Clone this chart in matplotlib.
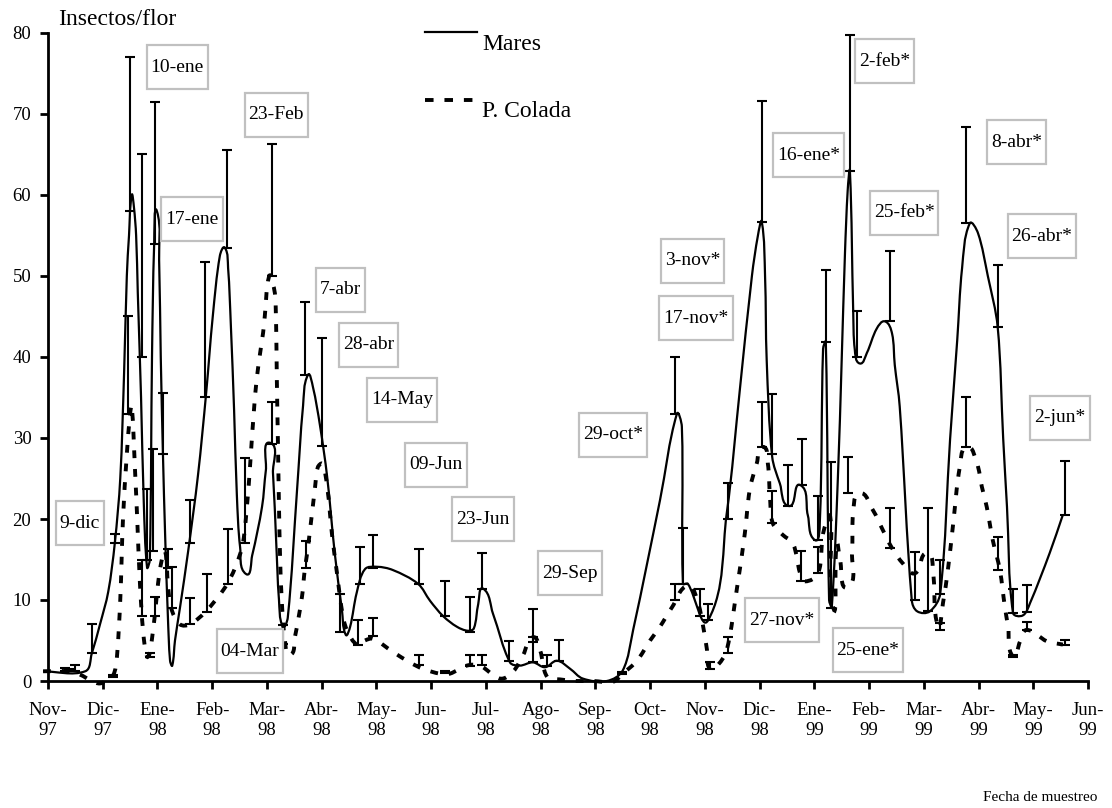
import numpy as np
import matplotlib
matplotlib.use("Agg")
import matplotlib.pyplot as plt
from matplotlib.patches import Rectangle, PathPatch
from matplotlib.path import Path
from matplotlib.lines import Line2D
from matplotlib.transforms import IdentityTransform

plt.rcParams['font.family'] = ['Liberation Serif', 'DejaVu Serif']

# ---------------- data ----------------
month_labels = ["Nov-\n97", "Dic-\n97", "Ene-\n98", "Feb-\n98", "Mar-\n98", "Abr-\n98",
                "May-\n98", "Jun-\n98", "Jul-\n98", "Ago-\n98", "Sep-\n98", "Oct-\n98",
                "Nov-\n98", "Dic-\n98", "Ene-\n99", "Feb-\n99", "Mar-\n99", "Abr-\n99",
                "May-\n99", "Jun-\n99"]

# time in months since 1-Nov-97
mares_t = [-0.09, 0.68, 0.80, 0.95, 1.10, 1.22, 1.32, 1.39, 1.44, 1.48, 1.53, 1.57, 1.61,
           1.64, 1.70, 1.75, 1.81, 1.86, 1.90, 1.94, 1.99, 2.03, 2.06, 2.10, 2.14, 2.19,
           2.23, 2.27, 2.32, 2.41, 2.56, 2.74, 2.89, 3.01, 3.14, 3.23, 3.29, 3.34, 3.40,
           3.45, 3.51, 3.62, 3.73, 3.91, 3.98, 4.06, 4.11, 4.17, 4.22, 4.29, 4.38, 4.55,
           4.66, 4.75, 4.84, 4.97, 5.10, 5.24, 5.37, 5.44, 5.52, 5.64, 5.79, 6.01, 6.30,
           6.76, 6.98, 7.22, 7.47, 7.67, 7.78, 7.86, 7.95, 8.13, 8.44, 8.62, 8.86, 9.08,
           9.30, 9.54, 9.77, 10.21, 10.50, 10.69, 11.18, 11.49, 11.58, 11.60, 11.69, 12.06,
           12.40, 12.64, 12.86, 12.97, 13.04, 13.10, 13.13, 13.23, 13.37, 13.54, 13.74,
           13.88, 14.01, 14.10, 14.16, 14.21, 14.27, 14.32, 14.43, 14.50, 14.56, 14.61,
           14.65, 14.71, 14.74, 14.83, 14.96, 15.14, 15.29, 15.42, 15.47, 15.56, 15.78,
           15.88, 16.11, 16.30, 16.48, 16.61, 16.70, 16.84, 16.99, 17.17, 17.35, 17.45,
           17.52, 17.63, 17.81, 17.94, 18.30, 18.54]
mares_v = [1.2, 1.2, 3.4, 7.0, 11.0, 17.0, 25.0, 38.0, 50.0, 55.0, 60.0, 58.5, 55.0,
           48.0, 35.0, 22.0, 14.0, 15.0, 40.0, 54.0, 58.0, 52.0, 40.0, 28.0, 18.0, 8.0,
           2.5, 1.9, 5.0, 9.0, 16.0, 25.4, 35.6, 45.0, 52.5, 53.5, 51.0, 44.0, 33.4,
           23.0, 16.5, 13.2, 15.5, 21.5, 26.0, 29.4, 25.7, 17.0, 10.0, 6.7, 7.8, 23.6,
           34.0, 37.8, 36.3, 31.5, 25.2, 15.7, 8.8, 5.7, 6.7, 10.9, 13.8, 14.1, 13.7,
           12.0, 9.9, 8.0, 6.7, 6.2, 6.5, 9.5, 11.4, 8.3, 2.3, 1.9, 2.3, 1.7,
           2.5, 1.5, 0.3, 0.0, 1.3, 6.3, 22.3, 33.0, 31.4, 12.0, 12.0, 7.5,
           20.7, 36.0, 50.0, 55.0, 56.7, 50.0, 39.6, 27.7, 24.4, 21.6, 24.2,
           20.5, 17.4, 19.5, 41.0, 41.9, 10.0, 9.2, 25.0, 39.6, 52.8, 60.6,
           63.0, 45.8, 40.9, 39.2, 40.5, 43.5, 44.4, 42.9, 39.0, 33.9, 10.0,
           8.6, 8.6, 10.8, 29.8, 42.0, 51.0, 56.5, 55.3, 50.0, 43.7, 30.0,
           21.5, 8.4, 8.1, 9.6, 15.8, 20.5]

colada_t = [-0.09, 0.35, 0.58, 0.80, 0.95, 1.13, 1.21, 1.26, 1.32, 1.37, 1.44, 1.50, 1.53,
            1.59, 1.63, 1.68, 1.74, 1.81, 1.86, 1.95, 2.01, 2.08, 2.14, 2.19, 2.25, 2.41,
            2.59, 2.87, 3.23, 3.42, 3.56, 3.64, 3.69, 3.78, 3.85, 3.93, 3.96, 4.04, 4.11,
            4.15, 4.17, 4.18, 4.20, 4.22, 4.24, 4.27, 4.33, 4.42, 4.51, 4.64, 4.69, 4.75,
            4.88, 4.93, 5.01, 5.10, 5.19, 5.28, 5.37, 5.46, 5.66, 5.79, 5.94, 6.30, 6.61,
            6.85, 7.16, 7.34, 7.65, 7.89, 8.26, 8.49, 8.68, 8.86, 8.99, 9.12, 9.35, 9.66,
            9.96, 10.32, 10.50, 10.76, 11.00, 11.18, 11.40, 11.69, 11.86, 11.97, 12.04,
            12.09, 12.24, 12.40, 12.59, 12.73, 12.82, 12.95, 13.06, 13.15, 13.19, 13.24,
            13.43, 13.61, 13.74, 13.83, 14.07, 14.16, 14.29, 14.34, 14.41, 14.47, 14.61,
            14.69, 14.71, 14.83, 15.07, 15.24, 15.42, 15.62, 15.84, 16.06, 16.17, 16.26,
            16.35, 16.44, 16.53, 16.66, 16.79, 16.97, 17.06, 17.15, 17.26, 17.39, 17.48,
            17.54, 17.63, 17.76, 17.88, 18.25, 18.54]
colada_v = [1.2, 1.2, 0.8, 0.0, -0.3, 0.3, 1.0, 3.0, 10.0, 20.0, 28.0, 33.0, 34.0,
            26.0, 20.0, 12.0, 6.0, 3.0, 3.5, 8.0, 12.0, 15.0, 16.0, 12.0, 9.0, 7.0,
            7.0, 8.5, 11.5, 14.0, 17.0, 22.0, 26.4, 35.0, 39.3, 43.0, 45.0, 50.0, 49.0,
            47.5, 43.0, 37.5, 29.7, 21.5, 15.3, 10.0, 5.0, 3.2, 5.4, 10.4, 13.7, 16.5,
            24.0, 26.4, 26.8, 24.0, 18.0, 13.3, 8.7, 6.3, 4.4, 5.0, 5.2, 3.6, 2.3,
            1.5, 0.9, 0.9, 1.9, 1.9, 0.3, 1.1, 3.2, 5.4, 3.8, 0.5, 0.2, 0.0,
            0.0, -0.1, 0.9, 2.5, 5.0, 6.7, 9.1, 11.8, 10.0, 6.7, 3.8,
            1.5, 2.0, 3.8, 11.6, 18.2, 23.6, 26.9, 28.9, 26.9, 22.8, 19.5,
            18.0, 17.0, 13.3, 12.3, 13.3, 18.2, 20.3, 9.2, 17.0, 15.0, 11.6,
            15.8, 20.7, 23.2, 21.1, 18.8, 16.4, 14.5, 13.3, 15.8, 13.3, 6.7,
            9.6, 13.7, 19.0, 26.5, 28.9, 26.9, 24.0, 21.5, 17.4, 13.7, 9.2,
            6.7, 3.0, 4.9, 6.3, 4.9, 4.5]

# error bars: sample time, mean value, mean + error
mares_err_t = [0.31, 0.49, 0.80, 1.22, 1.50, 1.72, 1.92, 1.95, 1.81, 2.10, 2.59, 2.87, 3.27,
               3.60, 4.09, 4.69, 5.01, 5.33, 5.70, 5.94, 6.78, 7.25, 7.71, 7.93, 8.42, 8.86,
               9.34, 11.45, 11.60, 11.91, 12.06, 12.42, 13.04, 13.23, 13.52, 13.77, 14.07,
               14.22, 14.31, 14.65, 14.78, 15.38, 15.84, 16.08, 16.30, 16.77, 17.35, 17.63,
               17.88, 18.58]
mares_err_lo = [1.2, 1.2, 3.4, 17.0, 58.0, 40.0, 16.0, 54.0, 15.0, 28.0, 17.0, 35.0, 53.5,
                17.0, 29.3, 37.8, 29.0, 6.0, 12.0, 14.0, 12.0, 8.0, 6.0, 11.4, 2.5, 2.3,
                2.5, 33.0, 12.0, 8.0, 7.5, 20.0, 56.7, 28.0, 21.6, 24.2, 17.4,
                41.9, 9.0, 63.0, 40.0, 44.4, 10.0, 8.6, 10.8, 56.5, 43.7, 8.4,
                8.5, 20.5]
mares_err_hi = [1.6, 2.0, 7.0, 18.2, 77.0, 65.0, 28.7, 71.5, 23.7, 35.5, 22.3, 51.7, 65.5,
                27.5, 34.4, 46.8, 42.3, 10.7, 16.6, 18.0, 16.3, 12.4, 10.4, 15.8, 4.9, 8.9,
                5.1, 40.0, 18.9, 11.4, 9.5, 24.4, 71.6, 35.4, 26.7, 29.9, 22.8,
                50.7, 27.0, 79.7, 45.7, 53.1, 15.9, 21.3, 14.9, 68.4, 51.4, 11.4,
                11.9, 27.1]

colada_err_t = [0.40, 1.19, 1.46, 1.72, 1.95, 1.86, 2.19, 2.27, 2.59, 2.90, 3.29, 4.09, 4.29,
                4.71, 5.66, 5.94, 6.78, 7.25, 7.71, 7.93, 8.86, 9.12, 10.49, 11.45, 12.09,
                12.42, 13.04, 13.23, 13.76, 14.07, 14.61, 15.38, 16.30, 16.77, 17.35, 17.63,
                17.88, 18.58]
colada_err_lo = [1.2, 0.5, 33.0, 8.0, 8.0, 3.0, 14.0, 9.0, 7.0, 8.5, 12.0, 50.0, 4.6,
                 14.0, 4.4, 5.5, 2.0, 1.0, 1.8, 2.0, 4.8, 1.8, 0.9, 10.0, 1.5,
                 3.5, 28.9, 19.5, 12.3, 13.3, 23.2, 16.4, 6.3, 28.9, 13.7, 3.0,
                 6.3, 4.5]
colada_err_hi = [1.5, 0.8, 45.0, 15.0, 10.4, 3.5, 16.3, 14.1, 10.3, 13.2, 18.8, 66.3, 6.9,
                 17.3, 7.5, 7.8, 3.2, 1.2, 3.2, 3.2, 5.4, 3.2, 1.1, 12.0, 2.3,
                 5.4, 34.4, 23.5, 16.0, 16.6, 27.7, 21.3, 7.1, 35.1, 17.8, 3.2,
                 7.3, 5.1]

date_labels = ["10-ene", "23-Feb", "17-ene", "7-abr", "28-abr", "14-May", "09-Jun",
               "23-Jun", "29-Sep", "29-oct*", "3-nov*", "17-nov*", "16-ene*", "2-feb*",
               "25-feb*", "8-abr*", "26-abr*", "2-jun*", "27-nov*", "25-ene*", "9-dic",
               "04-Mar"]
label_pos = [(2.36, 75.8), (4.17, 69.9), (2.63, 57.0), (5.35, 48.3), (5.85, 41.5),
             (6.47, 34.7), (7.09, 26.7), (7.95, 20.0), (9.54, 13.3), (10.32, 30.4),
             (11.78, 51.9), (11.84, 44.8), (13.90, 64.9), (15.29, 76.5), (15.64, 57.8),
             (17.70, 66.5), (18.16, 54.9), (18.49, 32.5), (13.41, 7.5), (14.98, 3.8),
             (0.58, 19.5), (3.69, 3.7)]

# ---------------- figure ----------------
W, H = 1112, 808
fig = plt.figure(figsize=(W / 100, H / 100), dpi=100)
ax = fig.add_axes([48 / W, 127 / H, 1040 / W, 648 / H])
ax.set_xlim(0, 19)
ax.set_ylim(0, 80)


def smooth_path(t, v):
    """Smoothed (Bezier) line through the data points, like a spreadsheet
    'smoothed line' chart. Geometry computed in screen-proportional units."""
    kx = 1040 / 19.0
    ky = 648 / 80.0
    P = np.column_stack([np.asarray(t, float) * kx, np.asarray(v, float) * ky])
    n = len(P)
    T = np.zeros_like(P)
    for i in range(n):
        a = P[max(i - 1, 0)]
        b = P[min(i + 1, n - 1)]
        d = b - a
        nrm = np.hypot(*d)
        T[i] = d / nrm if nrm > 0 else 0
    verts = [P[0]]
    codes = [Path.MOVETO]
    for i in range(n - 1):
        L = np.hypot(*(P[i + 1] - P[i]))
        verts += [P[i] + T[i] * L / 3, P[i + 1] - T[i + 1] * L / 3, P[i + 1]]
        codes += [Path.CURVE4] * 3
    verts = np.array(verts)
    verts[:, 0] /= kx
    verts[:, 1] /= ky
    return Path(verts, codes)


ax.add_patch(PathPatch(smooth_path(mares_t, mares_v), fill=False, edgecolor='black',
                       lw=1.6, joinstyle='round', clip_on=False, zorder=3))
ax.add_patch(PathPatch(smooth_path(colada_t, colada_v), fill=False, edgecolor='black',
                       lw=2.8, ls=(0, (2.0, 2.8)), capstyle='butt', clip_on=False,
                       zorder=3))

for t, lo, hi in ((mares_err_t, mares_err_lo, mares_err_hi),
                  (colada_err_t, colada_err_lo, colada_err_hi)):
    lo = np.asarray(lo)
    hi = np.asarray(hi)
    ax.errorbar(t, lo, yerr=[np.zeros_like(lo), hi - lo], fmt='none',
                ecolor='black', elinewidth=1.5, capsize=3.4, capthick=1.5,
                zorder=4, clip_on=False)

ax.set_xlim(0, 19)
ax.set_ylim(0, 80)
ax.set_xticks(range(len(month_labels)))
ax.set_xticklabels(month_labels, linespacing=1.25)
ax.set_yticks(range(0, 81, 10))
for s in ('top', 'right'):
    ax.spines[s].set_visible(False)
for s in ('left', 'bottom'):
    ax.spines[s].set_linewidth(2)
ax.tick_params(direction='out', length=6, width=2, labelsize=13.5, colors='black')
ax.tick_params(axis='x', pad=9)
ax.tick_params(axis='y', pad=6)

# date labels with gray boxes
texts = []
for lab, (x, y) in zip(date_labels, label_pos):
    texts.append(ax.text(x, y, lab, ha='center', va='center', fontsize=14, zorder=7))
fig.canvas.draw()
rend = fig.canvas.get_renderer()
for t in texts:
    bb = t.get_window_extent(rend)
    cy = 0.5 * (bb.y0 + bb.y1)
    rect = Rectangle((bb.x0 - 4, cy - 22), bb.width + 8, 44, transform=IdentityTransform(),
                     facecolor='white', edgecolor='#c0c0c0', lw=1.6, zorder=6,
                     clip_on=False)
    ax.add_patch(rect)

# legend (drawn manually as in the original)
ax.add_line(Line2D([0.3625, 0.4125], [1.0015, 1.0015], transform=ax.transAxes,
                   color='black', lw=1.6, clip_on=False))
ax.add_line(Line2D([0.3625, 0.4095], [0.8966, 0.8966], transform=ax.transAxes,
                   color='black', lw=2.8, ls=(0, (2.2, 2.8)), clip_on=False))
ax.text(0.4173, 0.9738, "Mares", transform=ax.transAxes, fontsize=17, va='baseline')
ax.text(0.4173, 0.8704, "P. Colada", transform=ax.transAxes, fontsize=17, va='baseline')

fig.text(58 / W, 1 - 25 / H, "Insectos/flor", fontsize=17, va='baseline', ha='left')
fig.text(1040 / W, 1 - 801 / H, "Fecha de muestreo", fontsize=11, va='baseline',
         ha='center')

fig.savefig('out.png', dpi=100)
